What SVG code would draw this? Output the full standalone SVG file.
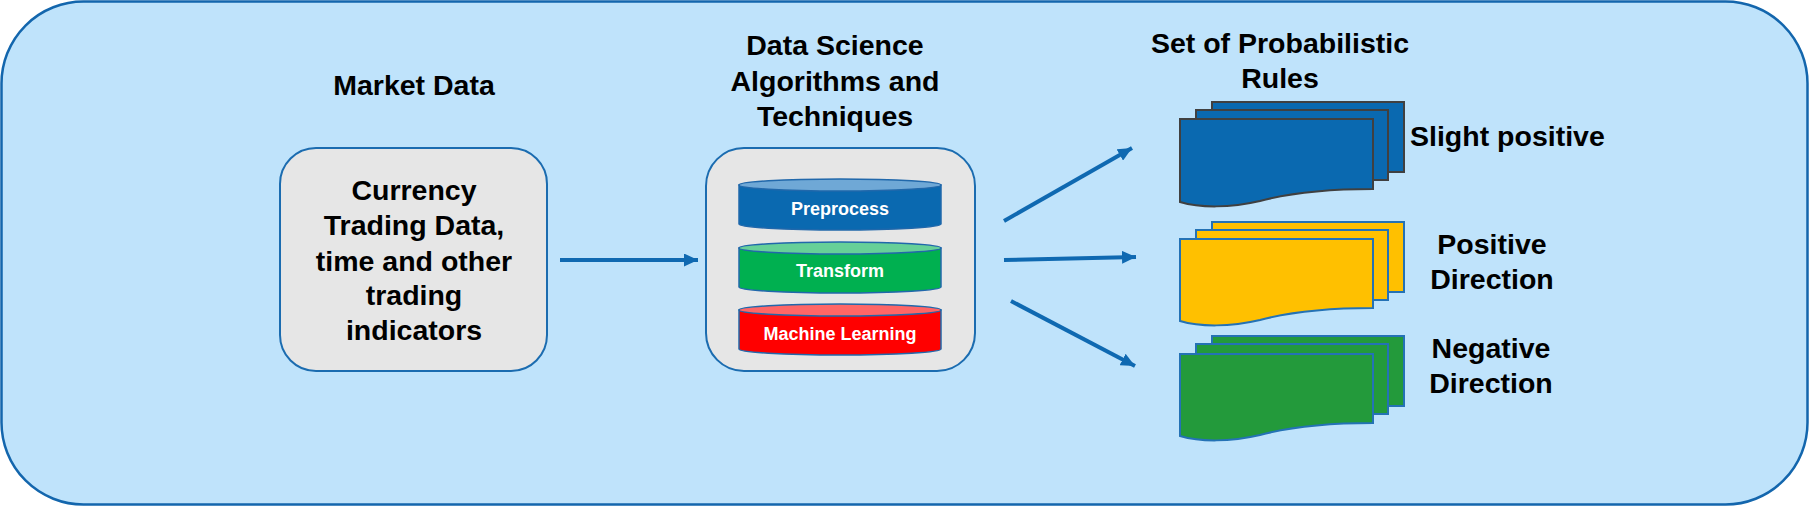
<svg xmlns="http://www.w3.org/2000/svg" width="1809" height="506" viewBox="0 0 1809 506">
<style>
.t{font-family:"Liberation Sans",Arial,sans-serif;font-weight:bold;font-size:28.5px;fill:#000}
.c{text-anchor:middle}
.w{font-family:"Liberation Sans",Arial,sans-serif;font-weight:bold;font-size:18px;fill:#fff;text-anchor:middle}
.box{fill:#e6e6e6;stroke:#1b6cb0;stroke-width:2}
.cyl{stroke:#2168ab;stroke-width:1.5}
.conn{stroke:#0f69b1;stroke-width:4;fill:none;marker-end:url(#ah)}
.pg{stroke-width:2}
</style>
<defs>
<marker id="ah" markerUnits="userSpaceOnUse" markerWidth="14" markerHeight="13" refX="14" refY="6.5" orient="auto">
<path d="M0,0 L14,6.5 L0,13 Z" fill="#0f69b1"/>
</marker>
</defs>
<g id="background">
<rect x="1.5" y="1.5" width="1806" height="503" rx="82" ry="82" fill="#bfe3fb" stroke="#1366ad" stroke-width="2.5"/>
</g>
<g id="market-data">
<text class="t c" x="414" y="95">Market Data</text>
<rect class="box" x="280" y="148" width="267" height="223" rx="36" ry="36"/>
<text class="t c" x="414" y="200">Currency</text>
<text class="t c" x="414" y="235">Trading Data,</text>
<text class="t c" x="414" y="271">time and other</text>
<text class="t c" x="414" y="305">trading</text>
<text class="t c" x="414" y="340">indicators</text>
</g>
<g id="data-science">
<text class="t c" x="835" y="55">Data Science</text>
<text class="t c" x="835" y="91">Algorithms and</text>
<text class="t c" x="835" y="126">Techniques</text>
<rect class="box" x="706" y="148" width="269" height="223" rx="38" ry="38"/>
<g id="preprocess">
<path class="cyl" d="M739,185 V224 A101,6 0 0 0 941,224 V185 Z" fill="#0a69b0"/>
<ellipse class="cyl" cx="840" cy="185" rx="101" ry="6" fill="#6fa8d6"/>
<text class="w" x="840" y="214.5">Preprocess</text>
</g>
<g id="transform">
<path class="cyl" d="M739,248 V287 A101,6 0 0 0 941,287 V248 Z" fill="#00b050"/>
<ellipse class="cyl" cx="840" cy="248" rx="101" ry="6" fill="#66d098"/>
<text class="w" x="840" y="277">Transform</text>
</g>
<g id="machine-learning">
<path class="cyl" d="M739,310 V349 A101,6 0 0 0 941,349 V310 Z" fill="#ff0000"/>
<ellipse class="cyl" cx="840" cy="310" rx="101" ry="6" fill="#ff6666"/>
<text class="w" x="840" y="339.5">Machine Learning</text>
</g>
</g>
<g id="rules-title">
<text class="t c" x="1280" y="53">Set of Probabilistic</text>
<text class="t c" x="1280" y="88">Rules</text>
</g>
<g id="slight-positive">
<rect class="pg" x="1212" y="102" width="192" height="70" fill="#0a69b0" stroke="#404040"/>
<rect class="pg" x="1196" y="110" width="192" height="70" fill="#0a69b0" stroke="#404040"/>
<path class="pg" d="M1180,119 H1373 V189 C1330,189 1290,193 1260,201 C1230,208 1200,208 1180,202 Z" fill="#0a69b0" stroke="#404040"/>
<text class="t" x="1410" y="146">Slight positive</text>
</g>
<g id="positive-direction">
<rect class="pg" x="1212" y="222" width="192" height="70" fill="#ffc000" stroke="#2472b5"/>
<rect class="pg" x="1196" y="230" width="192" height="70" fill="#ffc000" stroke="#2472b5"/>
<path class="pg" d="M1180,239 H1373 V308 C1330,308 1290,312 1260,320 C1230,327 1200,327 1180,321 Z" fill="#ffc000" stroke="#2472b5"/>
<text class="t c" x="1492" y="254">Positive</text>
<text class="t c" x="1492" y="289">Direction</text>
</g>
<g id="negative-direction">
<rect class="pg" x="1212" y="336" width="192" height="70" fill="#239a3b" stroke="#2472b5"/>
<rect class="pg" x="1196" y="344" width="192" height="70" fill="#239a3b" stroke="#2472b5"/>
<path class="pg" d="M1180,354 H1373 V423 C1330,423 1290,427 1260,435 C1230,442 1200,442 1180,436 Z" fill="#239a3b" stroke="#2472b5"/>
<text class="t c" x="1491" y="358">Negative</text>
<text class="t c" x="1491" y="393">Direction</text>
</g>
<g id="connectors">
<line class="conn" x1="560" y1="260" x2="698" y2="260"/>
<line class="conn" x1="1004" y1="221" x2="1132" y2="148"/>
<line class="conn" x1="1004" y1="260" x2="1136" y2="257"/>
<line class="conn" x1="1011" y1="301" x2="1135" y2="366"/>
</g>
</svg>
